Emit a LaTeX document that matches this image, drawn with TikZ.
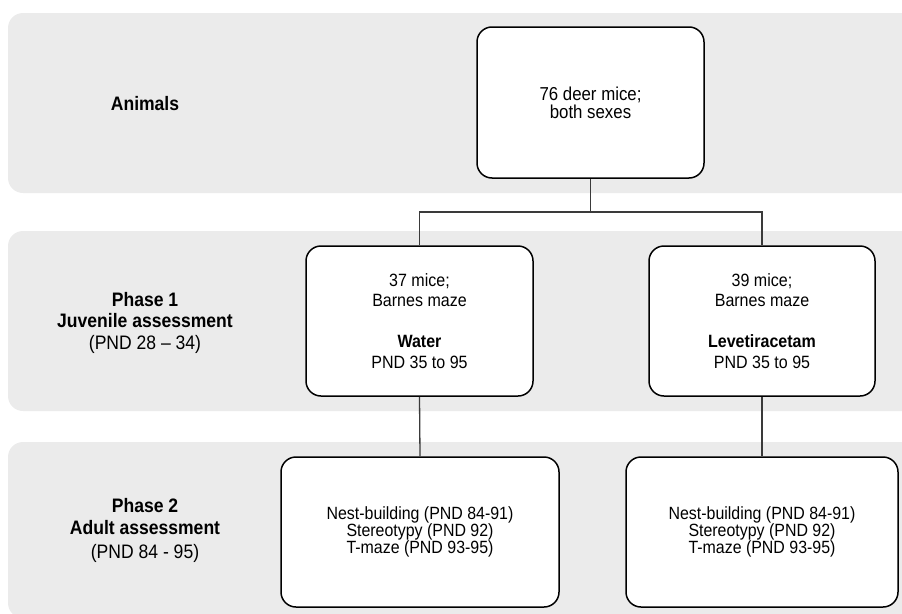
\documentclass[tikz,border=0pt]{standalone}
\usepackage{fontspec}
\setmainfont{Liberation Sans}[FakeStretch=0.9]
\definecolor{bandgray}{HTML}{EBEBEB}
\definecolor{linkgray}{HTML}{3A3A3A}
\newcommand{\boxfont}{\fontsize{17.8}{20.5}\selectfont}
\newcommand{\topfont}{\fontsize{18.7}{18.3}\selectfont}
\newcommand{\nestfont}{\fontsize{17.7}{16.7}\selectfont}
\newcommand{\lblfont}{\fontsize{19.5}{21.5}\selectfont}
\begin{document}
\begin{tikzpicture}[x=1pt,y=-1pt,
  band/.style={fill=bandgray, rounded corners=15pt},
  box/.style={draw=black, line width=1.5pt, fill=white, rounded corners=15pt, align=center, inner sep=0pt},
  link/.style={draw=linkgray, line width=1.3pt},
  lbl/.style={anchor=base, inner sep=0pt, font=\lblfont}]
\useasboundingbox (0,0) rectangle (902,613);
\begin{scope}
\clip (0,0) rectangle (902,613);
\fill[band] (8,13) rectangle (930,193);
\fill[band] (8,231) rectangle (930,411);
\fill[band] (8,442) rectangle (930,618);
\end{scope}
% labels
\node[lbl] (lanimals) at (145,110) {\textbf{Animals}};
\node[lbl] (lp1a) at (145,306) {\textbf{Phase 1}};
\node[lbl] (lp1b) at (145,327) {\textbf{Juvenile assessment}};
\node[lbl] (lp1c) at (145,349) {(PND 28 -- 34)};
\node[lbl] (lp2a) at (145,512) {\textbf{Phase 2}};
\node[lbl] (lp2b) at (145,534) {\textbf{Adult assessment}};
\node[lbl] (lp2c) at (145,558) {(PND 84 - 95)};
% boxes
\node[box, minimum width=227pt, minimum height=151pt, font=\topfont] (top) at (590.5,102.5) {76 deer mice;\\both sexes};
\node[box, minimum width=227pt, minimum height=150pt, font=\boxfont] (water) at (419.5,321) {37 mice;\\Barnes maze\\[20.5pt]\textbf{Water}\\PND 35 to 95};
\node[box, minimum width=226pt, minimum height=150pt, font=\boxfont] (lev) at (762,321) {39 mice;\\Barnes maze\\[20.5pt]\textbf{Levetiracetam}\\PND 35 to 95};
\node[box, minimum width=278pt, minimum height=150pt, font=\nestfont] (nestL) at (420,532) {Nest-building (PND 84-91)\\Stereotypy (PND 92)\\T-maze (PND 93-95)};
\node[box, minimum width=272pt, minimum height=150pt, font=\nestfont] (nestR) at (762,532) {Nest-building (PND 84-91)\\Stereotypy (PND 92)\\T-maze (PND 93-95)};
% connectors
\coordinate (split) at (590.5,212);
\draw[link] (top.south) -- (split);
\draw[link] (water.north) -- (water.north |- split) -- (lev.north |- split) -- (lev.north);
\draw[link] (water.south) -- (nestL.north);
\draw[link] (lev.south) -- (nestR.north);
\end{tikzpicture}
\end{document}
